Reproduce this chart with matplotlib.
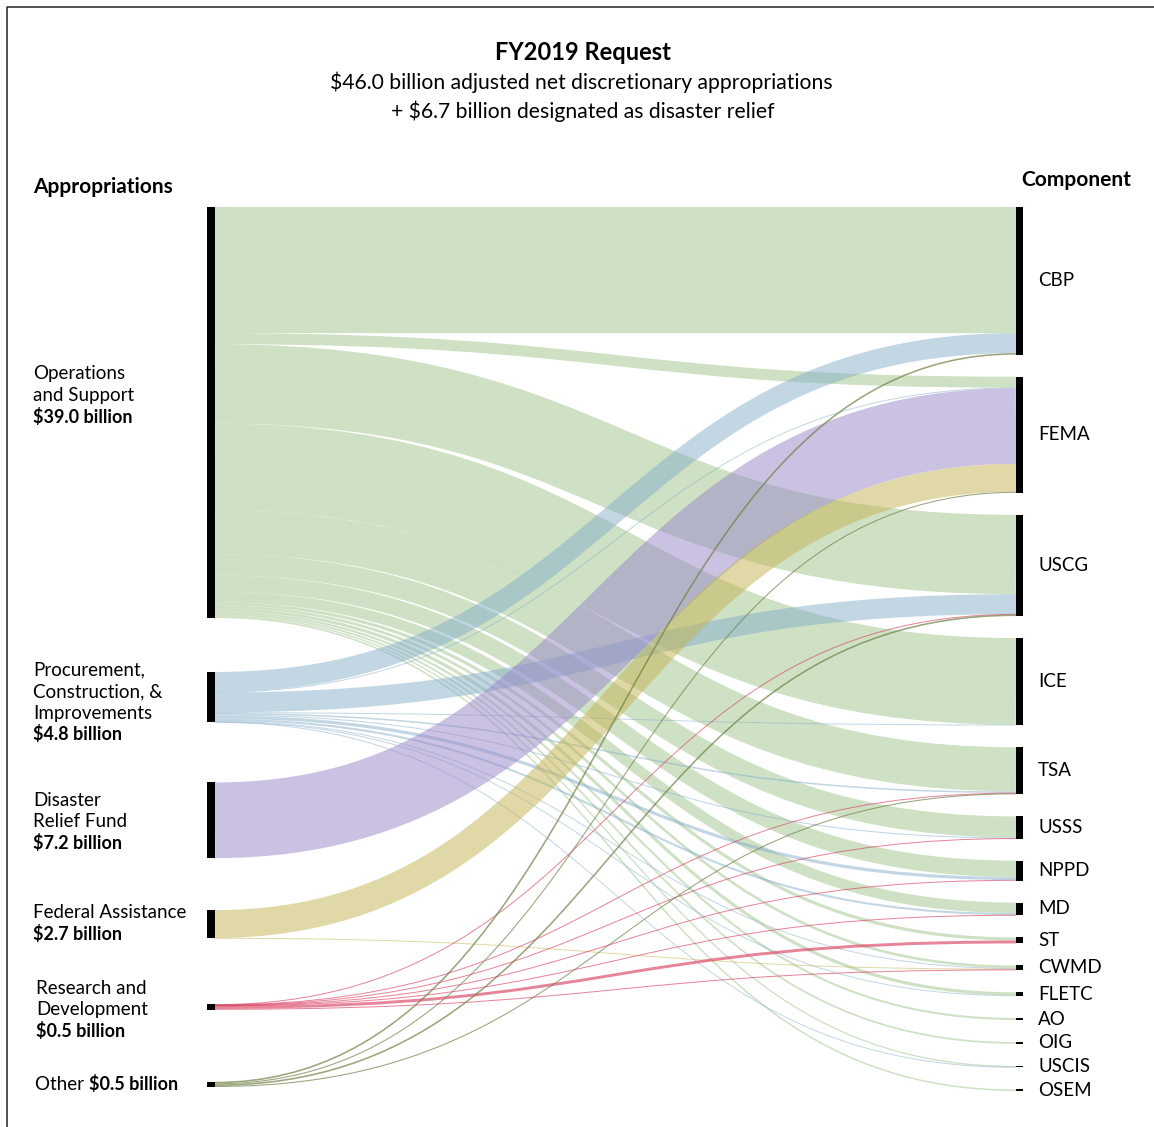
import matplotlib
matplotlib.use("Agg")
import matplotlib.pyplot as plt
from matplotlib.path import Path
from matplotlib.patches import PathPatch, Rectangle
import numpy as np

# ---------------- data ----------------
appropriations = ["Operations\nand Support",
                  "Procurement,\nConstruction, &\nImprovements",
                  "Disaster\nRelief Fund",
                  "Federal Assistance",
                  "Research and\nDevelopment",
                  "Other"]
appropriation_totals = ["$39.0 billion", "$4.8 billion", "$7.2 billion",
                        "$2.7 billion", "$0.5 billion", "$0.5 billion"]
components = ["CBP", "FEMA", "USCG", "ICE", "TSA", "USSS", "NPPD", "MD",
              "ST", "CWMD", "FLETC", "AO", "OIG", "USCIS", "OSEM"]

# flows ($ billion) from each appropriation to each component (same order as components)
ops_support = [12.0, 1.05, 7.55, 8.25, 4.2, 2.0, 1.55, 1.0, 0.3, 0.25, 0.3, 0.2, 0.17, 0.13, 0.15]
procurement = [1.9, 0.05, 1.9, 0.05, 0.15, 0.1, 0.3, 0.2, 0.0, 0.08, 0.05, 0.0, 0.0, 0.02, 0.0]
disaster_relief = [0, 7.2, 0, 0, 0, 0, 0, 0, 0, 0, 0, 0, 0, 0, 0]
federal_assistance = [0, 2.65, 0, 0, 0, 0, 0, 0, 0, 0.05, 0, 0, 0, 0, 0]
research_dev = [0, 0, 0.03, 0, 0.03, 0.02, 0.04, 0.02, 0.28, 0.08, 0, 0, 0, 0, 0]
other = [0.15, 0.1, 0.15, 0, 0.1, 0, 0, 0, 0, 0, 0, 0, 0, 0, 0]

title = "FY2019 Request"
subtitle1 = "$46.0 billion adjusted net discretionary appropriations"
subtitle2 = "+ $6.7 billion designated as disaster relief"

# ---------------- style / layout ----------------
FONT = ["Lato", "DejaVu Sans"]
plt.rcParams["font.family"] = FONT
link_colors = ["#a1c58d", "#87afc9", "#9987c9", "#c3b351", "#d83a5c", "#6f7f45"]
link_alpha = [0.5, 0.5, 0.5, 0.5, 0.62, 0.7]

W, H = 1154, 1127
TOP = 207
RIGHT_BOTTOM = 1091
RIGHT_GAP = 22
LEFT_GAPS = [54, 60, 52, 66, 72]
XL0, XL1 = 207, 215
XR0, XR1 = 1016, 1023

flows = np.array([ops_support, procurement, disaster_relief,
                  federal_assistance, research_dev, other], dtype=float)
src_val = flows.sum(axis=1)
tgt_val = flows.sum(axis=0)
n_s, n_t = flows.shape
k = (RIGHT_BOTTOM - TOP - RIGHT_GAP * (n_t - 1)) / tgt_val.sum()

src_y0 = np.zeros(n_s)
y = TOP
for i in range(n_s):
    src_y0[i] = y
    y += src_val[i] * k
    if i < n_s - 1:
        y += LEFT_GAPS[i]
tgt_y0 = np.zeros(n_t)
y = TOP
for j in range(n_t):
    tgt_y0[j] = y
    y += tgt_val[j] * k + RIGHT_GAP

fig = plt.figure(figsize=(W / 100, H / 100), dpi=100)
ax = fig.add_axes([0, 0, 1, 1])
ax.set_xlim(0, W)
ax.set_ylim(H, 0)
ax.axis("off")

# border
ax.plot([7, 7, W], [H, 7, 7], color="#333333", lw=1.2, solid_capstyle="butt")

# links
tgt_pos = np.zeros((n_s, n_t))
for j in range(n_t):
    off = 0
    for i in range(n_s):
        tgt_pos[i, j] = off
        off += flows[i, j] * k
xm = (XL1 + XR0) / 2
for i in range(n_s):
    off = 0
    for j in range(n_t):
        v = flows[i, j]
        if v <= 0:
            continue
        w = v * k
        sy = src_y0[i] + off + w / 2
        ty = tgt_y0[j] + tgt_pos[i, j] + w / 2
        off += w
        path = Path([(XL1, sy), (xm, sy), (xm, ty), (XR0, ty)],
                    [Path.MOVETO, Path.CURVE4, Path.CURVE4, Path.CURVE4])
        ax.add_patch(PathPatch(path, fill=False, edgecolor=link_colors[i],
                               alpha=link_alpha[i], lw=max(1.0, w) * 0.72,
                               capstyle="butt"))

# nodes
for i in range(n_s):
    ax.add_patch(Rectangle((XL0, src_y0[i]), XL1 - XL0, max(src_val[i] * k, 1),
                           color="black", lw=0))
for j in range(n_t):
    ax.add_patch(Rectangle((XR0, tgt_y0[j]), XR1 - XR0, max(tgt_val[j] * k, 1),
                           color="black", lw=0))

# titles
ax.text(583, 52, title, ha="center", va="center", fontsize=17, fontweight="bold")
ax.text(581, 82, subtitle1, ha="center", va="center", fontsize=15.2)
ax.text(583, 111, subtitle2, ha="center", va="center", fontsize=15.2)
ax.text(33, 187, "Appropriations", ha="left", va="center", fontsize=15, fontweight="bold")
ax.text(1021, 180, "Component", ha="left", va="center", fontsize=15, fontweight="bold")

# left labels
LINE = 21.5
left_label_top = [374, 670, 800, 912, 988]
left_label_x = [33, 33, 33, 33, 36]
for i in range(n_s - 1):
    lines = appropriations[i].split("\n")
    for n, ln in enumerate(lines):
        ax.text(left_label_x[i], left_label_top[i] + n * LINE, ln, ha="left",
                va="center", fontsize=13.5)
    ax.text(left_label_x[i], left_label_top[i] + len(lines) * LINE,
            appropriation_totals[i], ha="left", va="center", fontsize=13,
            fontweight="bold")
t = ax.text(35, 1084, appropriations[-1] + " ", ha="left", va="center", fontsize=13.5)
fig.canvas.draw()
bb = t.get_window_extent()
ax.text(35 + bb.width, 1084, appropriation_totals[-1], ha="left", va="center",
        fontsize=13, fontweight="bold")

# right labels
for j in range(n_t):
    cy = tgt_y0[j] + tgt_val[j] * k / 2
    ax.text(1038, cy, components[j], ha="left", va="center", fontsize=13.5)

fig.savefig("out.png", dpi=100)
